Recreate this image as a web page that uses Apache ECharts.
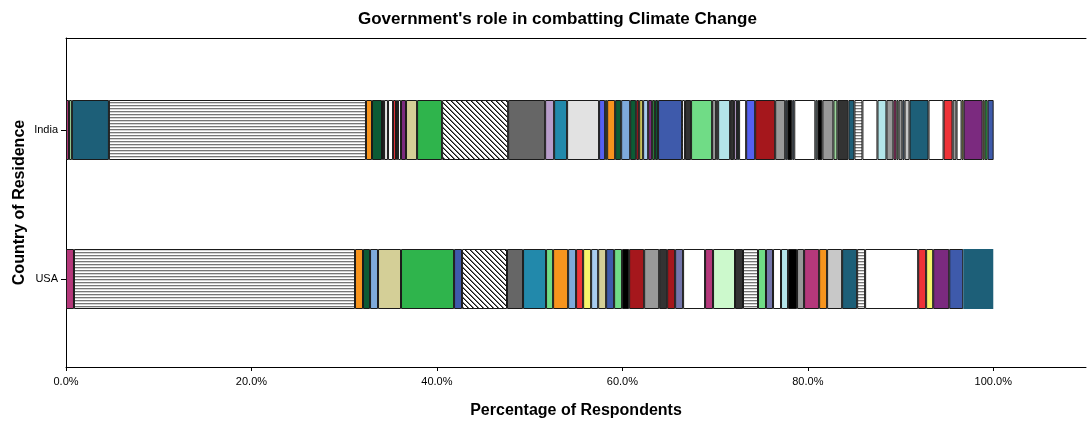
<!DOCTYPE html>
<html>
<head>
<meta charset="utf-8">
<script src="https://cdn.jsdelivr.net/npm/echarts@6/dist/echarts.min.js"></script>
<style>
  html, body { margin: 0; padding: 0; background: #fff; }
  #chart { width: 1088px; height: 422px; }
</style>
</head>
<body>
<div id="chart"></div>
<script>
// categories, bottom to top
const countries = ['USA', 'India']

// segment shares (% of respondents), left to right, with the fill key of each
const indiaShares = [0.32, 0.32, 3.99, 27.72, 0.65, 1.08, 0.22, 0.43, 0.54, 0.32,
  0.22, 0.32, 0.54, 1.19, 2.70, 7.12, 3.99, 0.97, 1.40, 3.45,
  0.65, 0.22, 0.86, 0.65, 0.97, 0.65, 0.32, 0.43, 0.54, 0.43,
  0.32, 0.32, 2.59, 0.32, 0.65, 2.27, 0.43, 0.22, 1.29, 0.43,
  0.32, 0.22, 0.76, 0.97, 2.16, 1.08, 0.22, 0.54, 0.22, 2.27,
  0.22, 0.54, 1.19, 0.43, 1.19, 0.65, 0.86, 1.62, 0.97, 0.76,
  0.32, 0.22, 0.43, 0.22, 0.54, 2.05, 1.62, 0.97, 0.43, 0.54,
  0.22, 2.05, 0.22, 0.32, 0.65]
const indiaKeys = ['magenta', 'ltgreen', 'teal', 'hstripe', 'orange', 'dkgreen', 'steel', 'ltgray', 'white', 'red',
  'yellow', 'white', 'purple', 'khaki', 'green', 'hatch', 'dkgray', 'lilac', 'cerulean', 'ltgray',
  'brblue', 'mint', 'orange', 'dkgreen', 'skyblue', 'dkgreen', 'crimson', 'olive', 'paleblue', 'purple',
  'forest', 'dkgreen', 'blue', 'dash', 'charcoal', 'mint', 'gray', 'white', 'cyan', 'charcoal',
  'lilac', 'cerulean', 'white', 'brblue', 'crimson', 'gray', 'skyblue', 'black', 'skyblue', 'white',
  'cyan', 'black', 'gray', 'ltgreen', 'charcoal', 'teal', 'hstripe', 'white', 'cyan', 'gray',
  'magenta', 'ltgreen', 'gray', 'skyblue', 'silver', 'teal', 'white', 'red', 'gray', 'white',
  'yellow', 'purple', 'olive', 'green', 'blue']

const usaShares = [0.86, 30.31, 0.86, 0.76, 0.86, 2.48, 5.72, 0.86, 4.85, 1.73,
  2.48, 0.76, 1.62, 0.86, 0.76, 0.86, 0.76, 0.86, 0.86, 0.86,
  0.76, 1.62, 1.62, 0.86, 0.86, 0.86, 2.37, 0.86, 2.37, 0.86,
  1.62, 0.86, 0.76, 0.86, 0.76, 0.97, 0.76, 1.62, 0.86, 1.62,
  1.62, 0.86, 5.72, 0.86, 0.76, 1.73, 1.51, 3.24]
const usaKeys = ['magenta', 'hstripe', 'orange', 'dkgreen', 'skyblue', 'khaki', 'green', 'blue', 'hatch', 'dkgray',
  'cerulean', 'mint', 'orange', 'skyblue', 'red', 'yellow', 'paleblue', 'khaki', 'blue', 'mint',
  'black', 'crimson', 'gray', 'charcoal', 'crimson', 'slate', 'white', 'magenta', 'palemint', 'charcoal',
  'hstripe', 'mint', 'slate', 'white', 'cyan', 'black', 'gray', 'magenta', 'orange', 'silver',
  'teal', 'hstripe', 'white', 'red', 'yellow', 'purple', 'blue', 'teal']

const palette = {
  magenta: '#b5387b', ltgreen: '#9ad39a', teal: '#1d5f78', orange: '#f7941d', dkgreen: '#0c5b35',
  steel: '#7f9fc0', ltgray: '#e2e2e2', white: '#ffffff', red: '#ee3338', yellow: '#f7f56b',
  purple: '#7b2a7f', khaki: '#d4cf97', green: '#2fb44c', dkgray: '#666666', lilac: '#b89dcb',
  cerulean: '#2289ab', brblue: '#5561f2', mint: '#70dc86', skyblue: '#7eaadb', crimson: '#a5171c',
  olive: '#c9c35b', paleblue: '#a8cdef', forest: '#2a8a3c', blue: '#3e5aab', charcoal: '#333333',
  gray: '#999999', cyan: '#b3e5e9', black: '#000000', silver: '#c8c8c8', slate: '#7476ab',
  palemint: '#ccf9cc',
}

// small canvas tiles for the hatched fills
const makeTile = (w, h, draw) => {
  const c = document.createElement('canvas')
  c.width = w
  c.height = h
  const ctx = c.getContext('2d')
  ctx.fillStyle = '#fff'
  ctx.fillRect(0, 0, w, h)
  draw(ctx)
  return { image: c, repeat: 'repeat' }
}

const patterns = {
  hstripe: makeTile(4, 3, ctx => {
    ctx.fillStyle = '#767676'
    ctx.fillRect(0, 0, 4, 1)
    ctx.fillStyle = '#d4d4d4'
    ctx.fillRect(0, 1, 4, 1)
  }),
  hatch: makeTile(5, 5, ctx => {
    ctx.fillStyle = '#111'
    for (let i = 0; i < 5; i++) ctx.fillRect(i, i, 1, 1)
    ctx.fillStyle = '#777'
    for (let i = 0; i < 5; i++) ctx.fillRect((i + 1) % 5, i, 1, 1)
  }),
  dash: makeTile(3, 4, ctx => {
    ctx.fillStyle = '#111'
    ctx.fillRect(1, 0, 1, 2)
  }),
}

const fillOf = key => patterns[key] || palette[key]

const cell = (shares, keys, i) => {
  if (i >= shares.length) return '-'
  const last = shares === usaShares && i === shares.length - 1
  return {
    value: shares[i],
    itemStyle: {
      color: fillOf(keys[i]),
      borderColor: '#1a1a1a',
      borderWidth: last ? 0 : 1,
    },
  }
}

const segCount = Math.max(indiaShares.length, usaShares.length)
const series = []
for (let i = 0; i < segCount; i++) {
  series.push({
    type: 'bar',
    stack: 'resp',
    xAxisIndex: 1,
    yAxisIndex: 1,
    barWidth: 60,
    silent: true,
    data: [cell(usaShares, usaKeys, i), cell(indiaShares, indiaKeys, i)],
  })
}

const font = "'Liberation Sans', Arial, sans-serif"
const chart = echarts.init(document.getElementById('chart'))

chart.setOption({
  animation: false,
  textStyle: { fontFamily: font, color: '#000' },
  title: {
    text: "Government's role in combatting Climate Change",
    left: 353,
    top: 6,
    textStyle: { fontSize: 17, fontWeight: 'bold', color: '#000', fontFamily: font },
  },
  grid: [
    { left: 66, right: 2, top: 38, bottom: 55, outerBoundsMode: 'none' },
    { left: 66, right: 2, top: 55.5, bottom: 68.5, outerBoundsMode: 'none' },
  ],
  xAxis: [
    {
      gridIndex: 0,
      type: 'value',
      min: 0,
      max: 110,
      interval: 20,
      name: 'Percentage of Respondents',
      nameLocation: 'middle',
      nameGap: 36,
      nameTextStyle: { fontSize: 16, fontWeight: 'bold', color: '#000', fontFamily: font },
      axisLine: { show: true, lineStyle: { color: '#000', width: 1 } },
      axisTick: { show: true, length: 4, lineStyle: { color: '#000' } },
      axisLabel: {
        showMaxLabel: false,
        fontSize: 11,
        color: '#000',
        margin: 9,
        formatter: v => v.toFixed(1) + '%',
      },
      splitLine: { show: false },
    },
    { gridIndex: 1, type: 'value', min: 0, max: 110, show: false },
    {
      gridIndex: 0,
      type: 'value',
      position: 'top',
      min: 0,
      max: 110,
      axisLine: { show: true, lineStyle: { color: '#000', width: 1 } },
      axisTick: { show: false },
      axisLabel: { show: false },
      splitLine: { show: false },
    },
  ],
  yAxis: [
    {
      gridIndex: 0,
      type: 'category',
      data: [''],
      name: 'Country of Residence',
      nameLocation: 'middle',
      nameGap: 38,
      nameTextStyle: { fontSize: 16, fontWeight: 'bold', color: '#000', fontFamily: font },
      axisLine: { show: true, lineStyle: { color: '#000', width: 1 } },
      axisTick: { show: false },
      axisLabel: { show: false },
    },
    {
      gridIndex: 1,
      type: 'category',
      data: countries,
      axisLine: { show: false },
      axisTick: { show: true, length: 5, alignWithLabel: true, lineStyle: { color: '#000' } },
      axisLabel: { fontSize: 11, color: '#000', margin: 8 },
    },
  ],
  series,
})
</script>
</body>
</html>
